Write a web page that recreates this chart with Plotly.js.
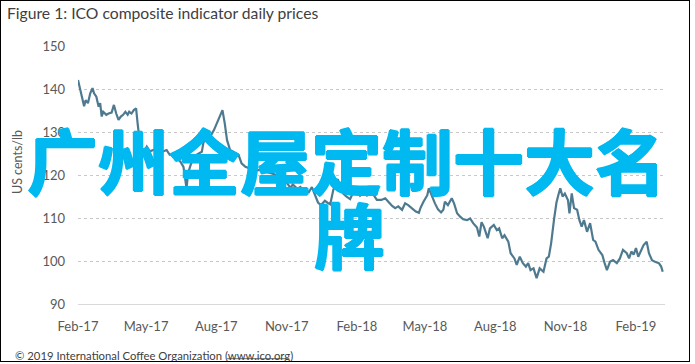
<!DOCTYPE html>
<html>
<head>
<meta charset="utf-8">
<script src="https://cdn.plot.ly/plotly-3.0.1.min.js"></script>
<style>
  html, body { margin: 0; padding: 0; background: #fff; }
  #wrap { position: relative; width: 695px; height: 364px; }
  #chart { width: 695px; height: 364px; }
  #frame { position: absolute; left: 0px; top: 0px; width: 690px; height: 362px;
           border: 1.5px solid #000; box-sizing: border-box; pointer-events: none; }
</style>
</head>
<body>
<div id="wrap"><div id="chart"></div><div id="frame"></div></div>
<script>
// ICO composite indicator daily prices (US cents/lb)
const dates = [
  "2017-02-01","2017-02-04","2017-02-07","2017-02-09","2017-02-11","2017-02-14","2017-02-17","2017-02-20","2017-02-22","2017-02-25",
  "2017-02-28","2017-03-02","2017-03-04","2017-03-06","2017-03-10","2017-03-13","2017-03-17","2017-03-20","2017-03-23","2017-03-26",
  "2017-03-29","2017-04-01","2017-04-04","2017-04-07","2017-04-09","2017-04-12","2017-04-15","2017-04-18","2017-04-20","2017-04-23",
  "2017-04-27","2017-05-02","2017-05-06","2017-05-13","2017-05-19","2017-05-28","2017-06-01","2017-06-06","2017-06-10","2017-06-15",
  "2017-06-19","2017-06-21","2017-06-23","2017-06-25","2017-06-29","2017-07-03","2017-07-06","2017-07-13","2017-07-15","2017-07-19",
  "2017-07-24","2017-07-29","2017-08-04","2017-08-07","2017-08-09","2017-08-12","2017-08-15","2017-08-19","2017-08-26","2017-08-30",
  "2017-09-03","2017-09-08","2017-09-14","2017-09-21","2017-09-27","2017-10-04","2017-10-10","2017-10-19","2017-10-23","2017-10-29",
  "2017-11-02","2017-11-06","2017-11-09","2017-11-15","2017-11-19","2017-11-23","2017-11-26","2017-11-30","2017-12-04","2017-12-08",
  "2017-12-12","2017-12-16","2017-12-21","2017-12-25","2017-12-28","2018-01-01","2018-01-05","2018-01-07","2018-01-10","2018-01-14",
  "2018-01-18","2018-01-23","2018-01-27","2018-02-01","2018-02-05","2018-02-09","2018-02-14","2018-02-20","2018-02-23","2018-02-27",
  "2018-03-05","2018-03-10","2018-03-14","2018-03-19","2018-03-23","2018-03-27","2018-04-01","2018-04-05","2018-04-09","2018-04-14",
  "2018-04-19","2018-04-23","2018-04-25","2018-04-29","2018-05-04","2018-05-06","2018-05-10","2018-05-14","2018-05-18","2018-05-22",
  "2018-05-25","2018-05-27","2018-05-31","2018-06-05","2018-06-08","2018-06-12","2018-06-16","2018-06-20","2018-06-25","2018-06-29",
  "2018-07-03","2018-07-08","2018-07-11","2018-07-14","2018-07-17","2018-07-22","2018-07-25","2018-07-30","2018-08-03","2018-08-06",
  "2018-08-10","2018-08-13","2018-08-18","2018-08-21","2018-08-26","2018-08-29","2018-09-02","2018-09-06","2018-09-10","2018-09-13",
  "2018-09-16","2018-09-20","2018-09-24","2018-09-28","2018-10-03","2018-10-07","2018-10-10","2018-10-13","2018-10-17","2018-10-20",
  "2018-10-23","2018-10-25","2018-10-28","2018-10-31","2018-11-04","2018-11-06","2018-11-09","2018-11-12","2018-11-16","2018-11-19",
  "2018-11-22","2018-11-25","2018-11-29","2018-12-03","2018-12-07","2018-12-10","2018-12-14","2018-12-19","2018-12-22","2018-12-25",
  "2018-12-29","2019-01-02","2019-01-07","2019-01-11","2019-01-15","2019-01-20","2019-01-23","2019-01-26","2019-01-29","2019-02-01",
  "2019-02-04","2019-02-08","2019-02-11","2019-02-15","2019-02-18","2019-02-22","2019-02-26","2019-03-03","2019-03-06","2019-03-08"
];
const prices = [
  142.1,139.8,137.8,136.0,137.4,136.7,139.0,140.2,139.0,138.2,
  135.9,136.7,133.6,134.7,134.0,134.3,134.5,136.3,134.3,132.8,
  133.6,134.0,134.7,134.0,134.7,134.3,135.1,135.5,132.0,127.4,
  125.0,126.6,125.5,126.0,125.2,125.8,124.7,125.0,123.9,123.1,
  121.9,119.6,116.9,120.4,122.7,123.9,124.7,125.4,127.4,129.7,
  128.9,130.5,132.8,134.0,135.1,132.0,128.1,125.8,125.0,124.7,
  122.7,121.9,121.5,121.0,121.2,120.8,120.4,120.0,119.4,119.0,
  118.0,117.0,117.8,116.8,117.2,116.2,116.5,116.0,117.2,115.3,
  113.6,113.0,114.0,113.5,113.2,116.5,118.6,119.0,117.0,115.7,
  115.0,114.4,116.0,116.5,115.2,116.0,115.2,116.1,115.3,114.2,
  114.2,114.6,113.8,112.8,112.3,112.7,111.9,113.4,113.0,112.3,
  111.5,111.2,112.3,113.8,115.3,116.9,115.0,113.4,112.0,111.3,
  111.9,113.8,113.0,114.6,113.4,111.1,110.3,109.7,109.5,109.9,
  108.8,107.8,105.7,109.0,108.0,105.3,107.6,108.4,107.2,107.6,
  105.3,106.0,104.5,101.8,100.6,99.1,101.0,99.5,98.7,99.5,
  97.9,98.3,96.0,98.3,97.5,100.6,101.0,104.1,109.9,113.6,
  115.7,116.9,115.0,115.7,114.2,111.1,115.7,112.3,111.9,109.5,
  108.0,109.5,106.8,108.8,104.9,104.5,102.6,101.4,99.5,97.9,
  99.8,100.2,99.5,100.6,102.6,101.8,100.6,102.2,101.5,103.0,
  101.0,102.6,103.7,104.5,101.8,100.2,99.8,99.5,98.7,97.5
];
const tickDates = ["2017-02-01","2017-05-01","2017-08-01","2017-11-01","2018-02-01","2018-05-01","2018-08-01","2018-11-01","2019-02-01"];
const tickLabels = ["Feb-17","May-17","Aug-17","Nov-17","Feb-18","May-18","Aug-18","Nov-18","Feb-19"];
const yTicks = [90, 100, 110, 120, 130, 140, 150];

const titleText = "Figure 1: ICO composite indicator daily prices";
const yTitle = "US cents/lb";
const footer = "© 2019 International Coffee Organization (www.ico.org)";
const watermark1 = "广州全屋定制十大名";
const watermark2 = "牌";
const wmColor = "#00B9F1";

const trace = {
  x: dates, y: prices, type: "scatter", mode: "lines",
  line: { color: "#4E7A90", width: 2.2 },
  hoverinfo: "skip"
};

const wmFont = {
  family: "'Noto Sans CJK SC', sans-serif", size: 71, weight: "bold", color: wmColor,
  shadow: "1px 0 0 " + wmColor + ", -1px 0 0 " + wmColor + ", 0 1px 0 " + wmColor + ", 0 -1px 0 " + wmColor
};

const layout = {
  width: 695, height: 364,
  margin: { l: 78, r: 30, t: 46, b: 60 },
  paper_bgcolor: "#ffffff", plot_bgcolor: "#ffffff",
  showlegend: false,
  font: { family: "Lato, 'Open Sans', sans-serif", color: "#595959" },
  title: {
    text: titleText, xref: "container", yref: "container",
    x: 0.01, xanchor: "left", y: 0.962, yanchor: "middle",
    font: { family: "Lato, sans-serif", size: 15.7, color: "#404040" }
  },
  xaxis: {
    type: "date", range: ["2017-02-01", "2019-03-11"],
    tickmode: "array", tickvals: tickDates, ticktext: tickLabels,
    showgrid: false, zeroline: false,
    showline: true, linecolor: "#D9D9D9", linewidth: 1,
    ticks: "", ticklabelstandoff: 10,
    tickfont: { size: 13, color: "#595959" }
  },
  yaxis: {
    range: [90, 150], tickmode: "array", tickvals: yTicks,
    showgrid: true, gridcolor: "#C8C8C8", griddash: "dot", gridwidth: 1,
    zeroline: false, showline: false, ticks: "", ticklabelstandoff: 12,
    tickfont: { size: 13, color: "#595959" }
  },
  shapes: [
    { type: "line", xref: "paper", yref: "paper", x0: 0.254, x1: 0.360, y0: -0.212, y1: -0.212,
      line: { color: "#404040", width: 0.8 } }
  ],
  annotations: [
    { text: yTitle, xref: "paper", yref: "paper", x: -0.104, y: 0.55,
      textangle: -90, showarrow: false, xanchor: "center", yanchor: "middle",
      font: { family: "Lato, sans-serif", size: 12.5, color: "#595959" } },
    { text: footer, xref: "paper", yref: "paper", x: -0.111, y: -0.198,
      showarrow: false, xanchor: "left", yanchor: "middle",
      font: { family: "Lato, sans-serif", size: 11.3, color: "#404040" } },
    { text: watermark1, xref: "paper", yref: "paper", x: 0.458, y: 0.566,
      showarrow: false, xanchor: "center", yanchor: "middle", font: wmFont },
    { text: watermark2, xref: "paper", yref: "paper", x: 0.463, y: 0.279,
      showarrow: false, xanchor: "center", yanchor: "middle", font: wmFont }
  ]
};

Plotly.newPlot("chart", [trace], layout, { displayModeBar: false, staticPlot: true });
</script>
</body>
</html>
